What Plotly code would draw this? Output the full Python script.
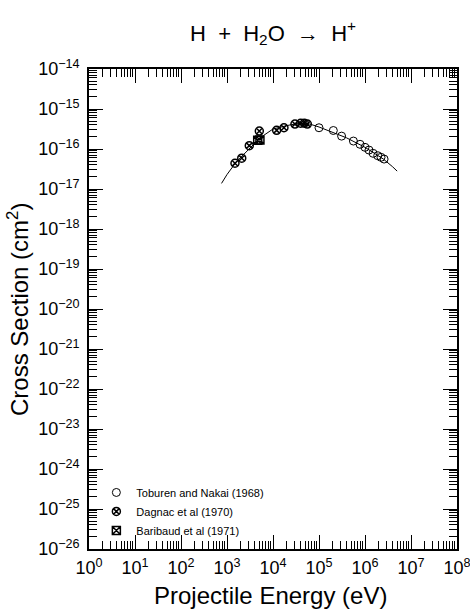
import plotly.graph_objects as go

# ---- data ----
toburen_E = [1.0e5, 2.05e5, 3.1e5, 5.6e5, 7.8e5, 1.0e6, 1.22e6, 1.5e6, 1.89e6, 2.23e6, 2.6e6]
toburen_S = [3.4e-16, 2.9e-16, 2.1e-16, 1.58e-16, 1.31e-16, 1.1e-16, 9.4e-17, 7.8e-17, 6.8e-17, 6.2e-17, 5.6e-17]

dagnac_E = [1.49e3, 2.09e3, 3.05e3, 5.04e3, 1.2e4, 1.73e4, 3.0e4, 4.0e4, 4.8e4, 5.57e4]
dagnac_S = [4.4e-17, 5.9e-17, 1.21e-16, 2.8e-16, 2.94e-16, 3.4e-16, 4.2e-16, 4.4e-16, 4.4e-16, 4.2e-16]

baribaud_E = [4.65e3, 5.2e3]
baribaud_S = [1.65e-16, 1.67e-16]

curve_E = [760, 1000, 1580, 2510, 3980, 6310, 1.0e4, 1.58e4, 2.51e4, 3.98e4, 6.31e4,
           1.0e5, 1.58e5, 2.51e5, 3.98e5, 6.31e5, 1.0e6, 1.58e6, 2.51e6, 3.98e6, 5.0e6]
curve_S = [1.38e-17, 2.3e-17, 4.7e-17, 8.3e-17, 1.38e-16, 2.2e-16, 3.16e-16, 3.6e-16, 4.07e-16,
           4.37e-16, 4.2e-16, 3.55e-16, 2.95e-16, 2.34e-16, 1.9e-16, 1.45e-16, 1.1e-16,
           7.9e-17, 5.6e-17, 3.6e-17, 2.8e-17]

x_ticks = [10.0 ** k for k in range(0, 9)]
x_labels = ["10<sup>%d</sup>" % k for k in range(0, 9)]
y_ticks = [10.0 ** k for k in range(-26, -13)]
y_labels = ["10<sup>\u2212%d</sup>" % (-k) for k in range(-26, -13)]

x_minor = [m * 10.0 ** k for k in range(0, 8) for m in range(2, 10)]
y_minor = [m * 10.0 ** k for k in range(-26, -14) for m in range(2, 10)]

FONT = "Liberation Sans"

fig = go.Figure()
fig.add_trace(go.Scatter(x=curve_E, y=curve_S, mode="lines",
                         line=dict(color="black", width=1), showlegend=False))
fig.add_trace(go.Scatter(x=toburen_E, y=toburen_S, mode="markers", name="Toburen and Nakai (1968)",
                         marker=dict(symbol="circle-open", size=8, color="black", line=dict(width=1))))
fig.add_trace(go.Scatter(x=dagnac_E, y=dagnac_S, mode="markers", name="Dagnac et al (1970)",
                         marker=dict(symbol="circle-x-open", size=8, color="black", line=dict(width=1.5))))
fig.add_trace(go.Scatter(x=baribaud_E, y=baribaud_S, mode="markers", name="Baribaud et al (1971)",
                         marker=dict(symbol="square-x-open", size=8, color="black", line=dict(width=1.5))))

axis_common = dict(
    type="log", showgrid=False, zeroline=False, automargin=False,
    showline=True, linecolor="black", linewidth=1.5, mirror="allticks",
    ticks="inside", ticklen=14, tickwidth=1, tickcolor="black",
    tickfont=dict(family=FONT, size=18, color="black"),
    tickmode="array", ticklabeloverflow="allow",
    minor=dict(ticks="inside", ticklen=8, tickwidth=1, tickcolor="black", showgrid=False, tickmode="array"),
)

fig.update_layout(
    width=470, height=609,
    margin=dict(l=89, r=13, t=69, b=60),
    paper_bgcolor="white", plot_bgcolor="white",
    xaxis=dict(axis_common, range=[0, 8], tickvals=x_ticks, ticktext=x_labels,
               minor=dict(axis_common["minor"], tickvals=x_minor), ticklabelstandoff=2),
    yaxis=dict(axis_common, range=[-26, -14], tickvals=y_ticks, ticktext=y_labels,
               minor=dict(axis_common["minor"], tickvals=y_minor), ticklabelstandoff=4),
    showlegend=True,
    legend=dict(x=0.02, y=0.148, xanchor="left", yanchor="top", bgcolor="rgba(0,0,0,0)",
                font=dict(family=FONT, size=11, color="black"), tracegroupgap=0, itemwidth=30),
    title=dict(text="H\u00a0\u00a0+\u00a0\u00a0H<sub>2</sub>O\u00a0\u00a0\u2192\u00a0\u00a0H<sup>+</sup>",
               x=0.581, xanchor="center", y=1 - 33 / 609, yanchor="middle",
               font=dict(family=FONT, size=22, color="black")),
    annotations=[
        dict(text="Projectile Energy (eV)", xref="paper", yref="paper", x=0.492, y=-0.096,
             xanchor="center", yanchor="middle", showarrow=False,
             font=dict(family=FONT, size=24, color="black")),
        dict(text="Cross Section (cm<sup>2</sup>)", xref="paper", yref="paper", x=-0.193, y=0.5,
             xanchor="center", yanchor="middle", showarrow=False, textangle=-90,
             font=dict(family=FONT, size=24, color="black")),
    ],
)

fig.write_html("out.html", config={"displayModeBar": False},
               post_script="document.body.style.margin='0';")
